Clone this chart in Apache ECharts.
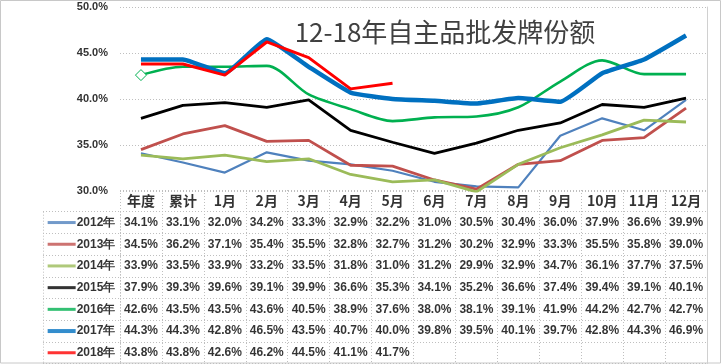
<!DOCTYPE html>
<html><head><meta charset="utf-8">
<script src="https://cdn.jsdelivr.net/npm/echarts@6/dist/echarts.min.js"></script>
<style>html,body{margin:0;padding:0;background:#fff}#c{width:722px;height:364px}</style>
</head><body><div id="c"></div>
<script>
const categories = ['年度','累计','1月','2月','3月','4月','5月','6月','7月','8月','9月','10月','11月','12月'];
const seriesNames = ['2012年','2013年','2014年','2015年','2016年','2017年','2018年'];
const v2012 = [34.1,33.1,32.0,34.2,33.3,32.9,32.2,31.0,30.5,30.4,36.0,37.9,36.6,39.9];
const v2013 = [34.5,36.2,37.1,35.4,35.5,32.8,32.7,31.2,30.2,32.9,33.3,35.5,35.8,39.0];
const v2014 = [33.9,33.5,33.9,33.2,33.5,31.8,31.0,31.2,29.9,32.9,34.7,36.1,37.7,37.5];
const v2015 = [37.9,39.3,39.6,39.1,39.9,36.6,35.3,34.1,35.2,36.6,37.4,39.4,39.1,40.1];
const v2016 = [42.6,43.5,43.5,43.6,40.5,38.9,37.6,38.0,38.1,39.1,41.9,44.2,42.7,42.7];
const v2017 = [44.3,44.3,42.8,46.5,43.5,40.7,40.0,39.8,39.5,40.1,39.7,42.8,44.3,46.9];
const v2018 = [43.8,43.8,42.6,46.2,44.5,41.1,41.7];
const yMin = 30, yMax = 50, yStep = 5;
const title = '12-18年自主品批发牌份额';

const allValues = [v2012,v2013,v2014,v2015,v2016,v2017,v2018];
const colors = ['#4F81BD','#C0504D','#9BBB59','#000000','#00B050','#0070C0','#FF0000'];
const widths = [2.2,2.8,2.8,2.8,2.6,4.5,3];
const smooths = [false,false,false,false,0.3,0.12,false];
const gridLine = {show:true,lineStyle:{color:'#bfbfbf',type:[1,2],width:1}};

const series = [];
allValues.forEach((vals,i)=>{
  series.push({
    type:'line', name:seriesNames[i], xAxisIndex:0, yAxisIndex:0,
    data: vals, smooth: smooths[i],
    symbol: 'diamond', showSymbol: i===4,
    symbolSize: (v,p)=> (i===4 && p.dataIndex===0) ? 11 : 0,
    itemStyle:{color:'#fff',borderColor:colors[i],borderWidth:1},
    lineStyle:{color:colors[i],width:widths[i]},
    z: 2+i, silent:true
  });
});
// header row
series.push({
  type:'scatter', xAxisIndex:1, yAxisIndex:2, symbolSize:0, silent:true,
  data: categories.map((c,j)=>[j,0,c]),
  label:{show:true,position:'inside',formatter:p=>p.value[2],
    color:'#000',fontSize:14,fontWeight:'bold',fontFamily:'Noto Sans CJK SC'}
});
// values
const cells = [];
allValues.forEach((vals,i)=>vals.forEach((v,j)=>cells.push([j,i+1,v])));
series.push({
  type:'scatter', xAxisIndex:1, yAxisIndex:2, symbolSize:0, silent:true,
  data: cells,
  label:{show:true,position:'inside',formatter:p=>p.value[2].toFixed(1)+'%',
    color:'#000',fontSize:12,fontWeight:'bold',fontFamily:'Liberation Sans'}
});
// legend key column
const rich = {t:{fontSize:12,fontWeight:'bold',fontFamily:'Liberation Sans',color:'#000',padding:[0,0,0,1]}};
colors.forEach((c,i)=>{ rich['l'+i] = {width:28,height:(i===5?4:3),backgroundColor:c}; });
series.push({
  type:'scatter', xAxisIndex:2, yAxisIndex:3, symbolSize:0, silent:true,
  data: seriesNames.map((n,i)=>[0,i,n]),
  label:{show:true,position:'inside',
    formatter:p=>'{l'+p.value[1]+'|}{t|'+p.value[2]+'}', rich}
});

const chart = echarts.init(document.getElementById('c'));
chart.setOption({
  animation:false,
  backgroundColor:'#fff',
  grid:[
    {left:120,right:15,top:7,height:184},
    {left:120,right:15,top:190,height:173.6},
    {left:43,width:77,top:211.7,height:151.9}
  ],
  xAxis:[
    {gridIndex:0,type:'category',data:categories,boundaryGap:true,
     axisLabel:{show:false},axisTick:{show:false},axisLine:{show:false}},
    {gridIndex:1,type:'category',data:categories,boundaryGap:true,
     axisLabel:{show:false},axisTick:{show:false},axisLine:{show:false},splitLine:gridLine},
    {gridIndex:2,type:'category',data:['k'],boundaryGap:true,
     axisLabel:{show:false},axisTick:{show:false},axisLine:{show:false},splitLine:gridLine}
  ],
  yAxis:[
    {gridIndex:0,type:'value',min:yMin,max:yMax,interval:yStep,
     axisLabel:{formatter:v=>v.toFixed(1)+'%',color:'#333',fontSize:11,fontWeight:'bold',
       fontFamily:'Liberation Sans',margin:12},
     axisLine:{show:false},axisTick:{show:false},splitLine:gridLine},
    {gridIndex:0,type:'value',min:yMin,max:yMax,position:'right',
     axisLabel:{show:false},axisTick:{show:false},splitLine:{show:false},
     axisLine:{show:true,lineStyle:{color:'#d0d0d0',width:1}}},
    {gridIndex:1,type:'category',data:['h'].concat(seriesNames),inverse:true,boundaryGap:true,
     position:'right',
     axisLabel:{show:false},axisTick:{show:false},
     axisLine:{show:true,lineStyle:{color:'#d0d0d0',width:1}},splitLine:gridLine},
    {gridIndex:2,type:'category',data:seriesNames,inverse:true,boundaryGap:true,
     axisLabel:{show:false},axisTick:{show:false},axisLine:{show:false},splitLine:gridLine}
  ],
  graphic:[
    {type:'rect',shape:{x:0.5,y:0.5,width:720,height:362.5},
     style:{fill:null,stroke:'#c8c8c8',lineWidth:1},silent:true,z:-1},
    {type:'text',x:445,y:32,style:{text:title,fill:'#404040',fontSize:26,
      fontFamily:'Noto Sans CJK SC',textAlign:'center',textVerticalAlign:'middle'},z:10}
  ],
  series
});
</script></body></html>
